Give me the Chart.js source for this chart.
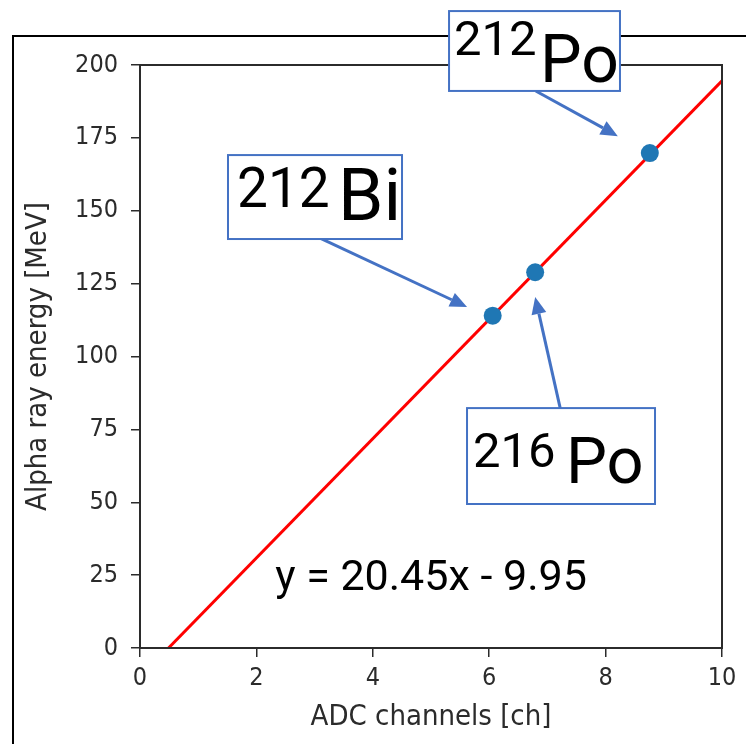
<!DOCTYPE html>
<html>
<head>
<meta charset="utf-8">
<script src="https://cdn.jsdelivr.net/npm/chart.js"></script>
<style>
  html, body { margin: 0; padding: 0; background: #fff; }
  #wrap { width: 746px; height: 744px; position: relative; }
</style>
</head>
<body>
<div id="wrap"><canvas id="calibChart" width="746" height="744"></canvas></div>
<script>
/* global Chart */

// measured peaks: ADC channel vs alpha energy
const adcChannels = [6.06, 6.79, 8.76];
const alphaEnergy = [114.0, 128.9, 169.8];

// fitted line y = 20.45x - 9.95, drawn from where it crosses 0 to the right edge
const fitLineX = [0.49, 10];
const fitLineY = [0, 194.55];

const xTickStep = 2;
const yTickStep = 25;
const equationText = 'y = 20.45x - 9.95';

// callout boxes, in data units (box = [x0, yTop, x1, yBottom])
const callouts = [
  { mass: '212', element: 'Po', box: [5.31, 218.5, 8.247, 191.1], from: [6.80, 191.1], to: [8.21, 175.6],
    massPx: 49, elemPx: 66, massOff: [5, 44], elemOff: [91, 71] },
  { mass: '212', element: 'Bi', box: [1.512, 169.1, 4.502, 140.3], from: [3.02, 141.3], to: [5.62, 117.0],
    massPx: 55, elemPx: 73, massOff: [9, 52], elemOff: [110, 65] },
  { mass: '216', element: 'Po', box: [5.619, 82.3, 8.849, 49.4], from: [7.22, 82.3], to: [6.79, 120.4],
    massPx: 49, elemPx: 65, massOff: [6, 59], elemOff: [99, 75] },
];
const equationPos = [5.0, 19.9];

const BLUE = '#4472C4';
const AXIS = '#2b2b2b';
const AXIS_FAMILY = "'DejaVu Sans Condensed', 'DejaVu Sans'";
const TICK_FONT = { family: AXIS_FAMILY, size: 25 };
const TITLE_FONT = { family: AXIS_FAMILY, size: 29 };
const CALLOUT_FONT = 'Roboto, "Open Sans", sans-serif';

function drawArrow(ctx, x0, y0, x1, y1) {
  const ang = Math.atan2(y1 - y0, x1 - x0);
  const headLen = 17;
  const headHalf = 7.5;
  const bx = x1 - headLen * Math.cos(ang);
  const by = y1 - headLen * Math.sin(ang);
  ctx.strokeStyle = BLUE;
  ctx.fillStyle = BLUE;
  ctx.lineWidth = 3;
  ctx.beginPath();
  ctx.moveTo(x0, y0);
  ctx.lineTo(bx, by);
  ctx.stroke();
  ctx.beginPath();
  ctx.moveTo(x1, y1);
  ctx.lineTo(bx + headHalf * Math.sin(ang), by - headHalf * Math.cos(ang));
  ctx.lineTo(bx - headHalf * Math.sin(ang), by + headHalf * Math.cos(ang));
  ctx.closePath();
  ctx.fill();
}

const framePlugin = {
  id: 'frame',
  beforeDraw(chart) {
    const { ctx, width, height } = chart;
    ctx.save();
    ctx.fillStyle = '#fff';
    ctx.fillRect(0, 0, width, height);
    // outer slide frame
    ctx.strokeStyle = '#000';
    ctx.lineWidth = 2;
    ctx.beginPath();
    ctx.moveTo(13, height);
    ctx.lineTo(13, 36);
    ctx.lineTo(width, 36);
    ctx.stroke();
    ctx.restore();
  },
  afterDraw(chart) {
    const { ctx, chartArea } = chart;
    const xs = chart.scales.x;
    const ys = chart.scales.y;
    ctx.save();
    // top and right spines
    ctx.strokeStyle = AXIS;
    ctx.lineWidth = 2;
    ctx.strokeRect(chartArea.left, chartArea.top, chartArea.right - chartArea.left, chartArea.bottom - chartArea.top);

    callouts.forEach((c) => {
      drawArrow(ctx, xs.getPixelForValue(c.from[0]), ys.getPixelForValue(c.from[1]),
        xs.getPixelForValue(c.to[0]), ys.getPixelForValue(c.to[1]));
    });
    callouts.forEach((c) => {
      const left = xs.getPixelForValue(c.box[0]);
      const top = ys.getPixelForValue(c.box[1]);
      const right = xs.getPixelForValue(c.box[2]);
      const bottom = ys.getPixelForValue(c.box[3]);
      ctx.fillStyle = '#fff';
      ctx.fillRect(left, top, right - left, bottom - top);
      ctx.strokeStyle = BLUE;
      ctx.lineWidth = 2;
      ctx.strokeRect(left, top, right - left, bottom - top);
      ctx.fillStyle = '#000';
      ctx.textAlign = 'left';
      ctx.textBaseline = 'alphabetic';
      ctx.font = `${c.massPx}px ${CALLOUT_FONT}`;
      ctx.fillText(c.mass, left + c.massOff[0], top + c.massOff[1]);
      ctx.font = `${c.elemPx}px ${CALLOUT_FONT}`;
      ctx.fillText(c.element, left + c.elemOff[0], top + c.elemOff[1]);
    });

    ctx.fillStyle = '#000';
    ctx.textAlign = 'center';
    ctx.textBaseline = 'alphabetic';
    ctx.font = `43px ${CALLOUT_FONT}`;
    ctx.fillText(equationText, xs.getPixelForValue(equationPos[0]), ys.getPixelForValue(equationPos[1]));
    ctx.restore();
  },
};

const ctx = document.getElementById('calibChart').getContext('2d');
const myChart = new Chart(ctx, {
  type: 'scatter',
  data: {
    datasets: [
      {
        label: 'fit',
        data: fitLineX.map((x, i) => ({ x, y: fitLineY[i] })),
        showLine: true,
        borderColor: '#ff0000',
        borderWidth: 3,
        pointRadius: 0,
        order: 2,
      },
      {
        label: 'peaks',
        data: adcChannels.map((x, i) => ({ x, y: alphaEnergy[i] })),
        backgroundColor: '#1f77b4',
        borderWidth: 0,
        pointRadius: 9,
        order: 1,
      },
    ],
  },
  options: {
    responsive: false,
    animation: false,
    devicePixelRatio: 1,
    layout: { padding: { left: 0, top: 65, right: 24, bottom: 0 } },
    plugins: { legend: { display: false }, tooltip: { enabled: false } },
    scales: {
      x: {
        type: 'linear',
        min: 0,
        max: 10,
        afterFit(scale) { scale.height = 96; },
        ticks: { stepSize: xTickStep, color: AXIS, font: TICK_FONT, padding: 6, maxRotation: 0 },
        grid: { drawOnChartArea: false, drawTicks: true, tickLength: 9, color: AXIS, lineWidth: 1.5 },
        border: { color: AXIS, width: 2 },
        title: { display: true, text: 'ADC channels [ch]', color: AXIS, font: TITLE_FONT, padding: { top: 0, bottom: 9 } },
      },
      y: {
        type: 'linear',
        min: 0,
        max: 200,
        afterFit(scale) { scale.width = 140; },
        ticks: { stepSize: yTickStep, color: AXIS, font: TICK_FONT, padding: 13 },
        grid: { drawOnChartArea: false, drawTicks: true, tickLength: 9, color: AXIS, lineWidth: 1.5 },
        border: { color: AXIS, width: 2 },
        title: { display: true, text: 'Alpha ray energy [MeV]', color: AXIS, font: TITLE_FONT, padding: { top: 21, bottom: 0 } },
      },
    },
  },
  plugins: [framePlugin],
});
</script>
</body>
</html>
